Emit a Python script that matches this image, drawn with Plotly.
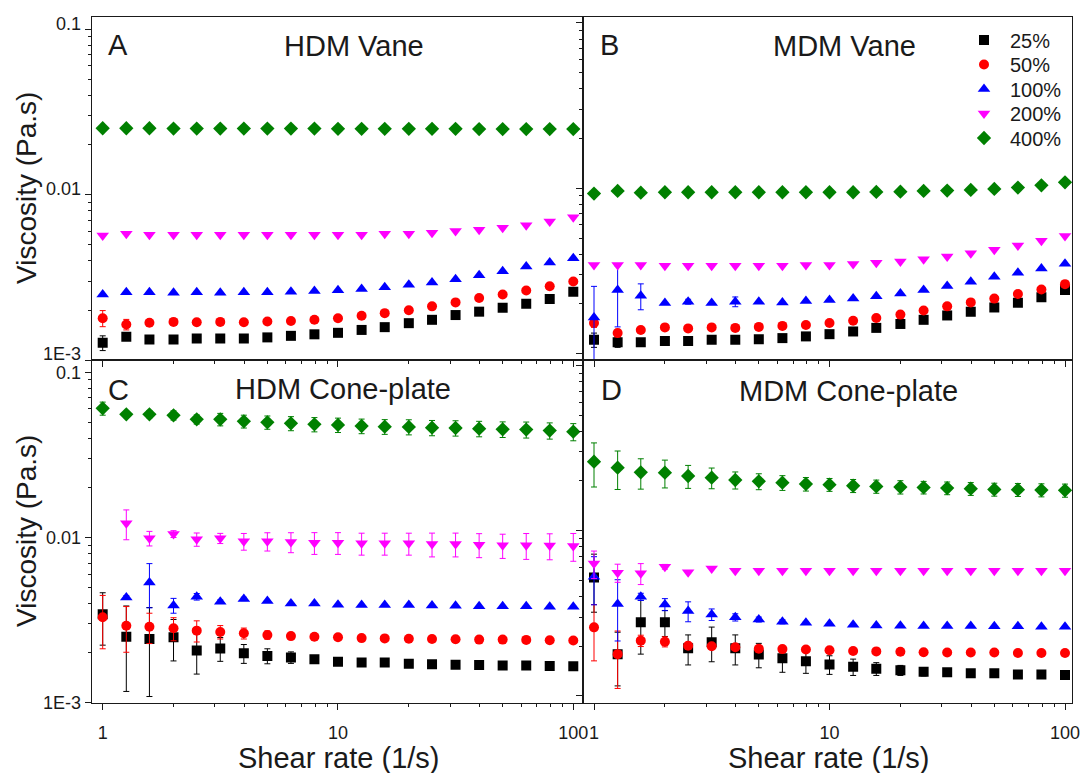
import plotly.graph_objects as go

# Shear rates (1/s), ten points per decade
shear_rate = [1, 1.26, 1.58, 2.0, 2.51, 3.16, 3.98, 5.01, 6.31, 7.94, 10,
              12.6, 15.8, 20.0, 25.1, 31.6, 39.8, 50.1, 63.1, 79.4, 100]

strain_labels = ["25%", "50%", "100%", "200%", "400%"]

# ---------------- A: HDM Vane (viscosity, Pa.s) ----------------
hdm_vane_25 = [0.00127, 0.00138, 0.00133, 0.00133, 0.00135, 0.00135, 0.00135, 0.00137, 0.00140, 0.00143, 0.00146,
               0.00152, 0.00158, 0.00167, 0.00175, 0.00187, 0.00196, 0.00207, 0.00219, 0.00234, 0.00259]
hdm_vane_50 = [0.00179, 0.00164, 0.00168, 0.00170, 0.00169, 0.00170, 0.00169, 0.00171, 0.00172, 0.00175, 0.00179,
               0.00185, 0.00192, 0.00200, 0.00211, 0.00223, 0.00237, 0.00249, 0.00263, 0.00279, 0.00298]
hdm_vane_100 = [0.00249, 0.00257, 0.00257, 0.00255, 0.00257, 0.00255, 0.00257, 0.00257, 0.00259, 0.00261, 0.00264,
                0.00269, 0.00275, 0.00285, 0.00294, 0.00308, 0.00326, 0.00344, 0.00368, 0.00389, 0.00413]
hdm_vane_200 = [0.00567, 0.00581, 0.00572, 0.00572, 0.00572, 0.00572, 0.00572, 0.00572, 0.00572, 0.00572, 0.00572,
                0.00572, 0.00581, 0.00581, 0.00589, 0.00603, 0.00614, 0.00631, 0.00652, 0.00689, 0.00729]
hdm_vane_400 = [0.0252, 0.0252, 0.0252, 0.0251, 0.0251, 0.0251, 0.0251, 0.0251, 0.0251, 0.0251, 0.0250,
                0.0250, 0.0250, 0.0250, 0.0250, 0.0250, 0.0249, 0.0249, 0.0249, 0.0249, 0.0249]
hdm_vane_25_err = [0.00013, 0.00006] + [0] * 19
hdm_vane_50_err = [0.0002, 0.00012] + [0] * 19

# ---------------- B: MDM Vane ----------------
mdm_vane_25 = [0.00121, 0.00117, 0.00117, 0.00119, 0.00119, 0.00121, 0.00121, 0.00122, 0.00124, 0.00127, 0.00131,
               0.00136, 0.00143, 0.00151, 0.00160, 0.00170, 0.00179, 0.00190, 0.00203, 0.00219, 0.00242]
mdm_vane_50 = [0.00153, 0.00133, 0.00139, 0.00144, 0.00142, 0.00144, 0.00143, 0.00145, 0.00147, 0.00149, 0.00153,
               0.00158, 0.00164, 0.00172, 0.00182, 0.00193, 0.00204, 0.00215, 0.00229, 0.00244, 0.00263]
mdm_vane_100 = [0.00165, 0.00242, 0.00224, 0.00202, 0.00206, 0.00202, 0.00206, 0.00206, 0.00204, 0.00208, 0.00211,
                0.00215, 0.00222, 0.00231, 0.00242, 0.00256, 0.00272, 0.00292, 0.00308, 0.00327, 0.00349]
mdm_vane_200 = [0.00343, 0.00343, 0.00343, 0.00340, 0.00340, 0.00340, 0.00340, 0.00340, 0.00340, 0.00343, 0.00343,
                0.00348, 0.00354, 0.00361, 0.00372, 0.00386, 0.00404, 0.00425, 0.00450, 0.00482, 0.00514]
mdm_vane_400 = [0.00929, 0.00963, 0.00941, 0.00946, 0.00946, 0.00946, 0.00946, 0.00946, 0.00946, 0.00946, 0.00946,
                0.00946, 0.00950, 0.00954, 0.00963, 0.00968, 0.00977, 0.00991, 0.01009, 0.01042, 0.01087]
mdm_vane_25_err = [0.00012, 0.00008] + [0] * 19
mdm_vane_50_err = [0.00009, 0.00007] + [0] * 19
mdm_vane_100_err = [0.0009, 0.00097, 0.0004, 0, 0.00007, 0, 0.00014] + [0] * 14

# ---------------- C: HDM Cone-plate ----------------
hdm_cone_25 = [0.00343, 0.00251, 0.00243, 0.00249, 0.00207, 0.00213, 0.00199, 0.00192, 0.00188, 0.00183, 0.00177,
               0.00175, 0.00175, 0.00172, 0.00171, 0.00170, 0.00169, 0.00168, 0.00168, 0.00167, 0.00166]
hdm_cone_50 = [0.00329, 0.00292, 0.00288, 0.00282, 0.00273, 0.00268, 0.00263, 0.00257, 0.00253, 0.00251, 0.00249,
               0.00246, 0.00245, 0.00244, 0.00243, 0.00242, 0.00241, 0.00241, 0.00240, 0.00239, 0.00238]
hdm_cone_100 = [None, 0.00434, 0.00535, 0.00388, 0.00438, 0.00409, 0.00425, 0.00413, 0.00399, 0.00399, 0.00392,
                0.00390, 0.00390, 0.00390, 0.00388, 0.00386, 0.00384, 0.00384, 0.00384, 0.00381, 0.00381]
hdm_cone_200 = [None, 0.01219, 0.00989, 0.01050, 0.00975, 0.00989, 0.00948, 0.00948, 0.00939, 0.00930, 0.00930,
                0.00922, 0.00922, 0.00922, 0.00913, 0.00913, 0.00905, 0.00897, 0.00897, 0.00893, 0.00888]
hdm_cone_400 = [0.0605, 0.0557, 0.0557, 0.0549, 0.0519, 0.0519, 0.0505, 0.0498, 0.0491, 0.0484, 0.0480,
                0.0473, 0.0469, 0.0467, 0.0462, 0.0460, 0.0456, 0.0452, 0.0450, 0.0444, 0.0437]
hdm_cone_25_err = [0.0012, 0.00134, 0.00134, 0.0007, 0.00058, 0.00035, 0.00026, 0.0002, 0.00015, 0.00008, 0.00005,
                   0, 0, 0, 0, 0, 0, 0, 0, 0, 0]
hdm_cone_50_err = [0.00117, 0.0009, 0.0006, 0.00045, 0.0004, 0.00025, 0.0002, 0.00015, 0.0001, 0.00008, 0.00006,
                   0, 0, 0, 0, 0, 0, 0, 0, 0, 0]
hdm_cone_100_err = [0, 0.0001, 0.0016, 0.0004, 0.0002, 0.0001, 0.0001] + [0] * 14
hdm_cone_200_err = [0, 0.0025, 0.001, 0.0005, 0.0009, 0.0007, 0.0011, 0.0012, 0.0013, 0.0014, 0.0014,
                    0.0014, 0.0014, 0.0014, 0.0015, 0.0015, 0.0015, 0.0015, 0.0016, 0.0016, 0.0017]
hdm_cone_400_err = [0.0055, 0.0015, 0.0027, 0.0035, 0.0033, 0.0045, 0.0045, 0.0046, 0.0048, 0.0048, 0.0048,
                    0.0048, 0.0048, 0.0049, 0.0049, 0.0049, 0.0049, 0.0049, 0.0050, 0.0050, 0.0052]

# ---------------- D: MDM Cone-plate ----------------
mdm_cone_25 = [0.00521, 0.00179, 0.00279, 0.00279, 0.00194, 0.00211, 0.00194, 0.00178, 0.00169, 0.00162, 0.00155,
               0.00150, 0.00146, 0.00143, 0.00140, 0.00139, 0.00137, 0.00137, 0.00135, 0.00135, 0.00134]
mdm_cone_50 = [0.00260, 0.00179, 0.00216, 0.00213, 0.00201, 0.00200, 0.00197, 0.00193, 0.00192, 0.00191, 0.00189,
               0.00187, 0.00186, 0.00185, 0.00184, 0.00183, 0.00183, 0.00183, 0.00182, 0.00182, 0.00182]
mdm_cone_100 = [0.00526, 0.00360, 0.00398, 0.00358, 0.00326, 0.00311, 0.00299, 0.00290, 0.00281, 0.00277, 0.00273,
                0.00270, 0.00267, 0.00266, 0.00265, 0.00265, 0.00265, 0.00264, 0.00264, 0.00262, 0.00262]
mdm_cone_200 = [0.00633, 0.00557, 0.00552, 0.00605, 0.00560, 0.00591, 0.00573, 0.00573, 0.00573, 0.00573, 0.00573,
                0.00573, 0.00573, 0.00573, 0.00573, 0.00573, 0.00573, 0.00573, 0.00573, 0.00573, 0.00573]
mdm_cone_400 = [0.02618, 0.02406, 0.02254, 0.02244, 0.02143, 0.02094, 0.02027, 0.01990, 0.01953, 0.01917, 0.01900,
                0.01871, 0.01854, 0.01837, 0.01828, 0.01811, 0.01795, 0.01778, 0.01771, 0.01762, 0.01754]
mdm_cone_25_err = [0.0020, 0.00064, 0.001, 0.0005, 0.0004, 0.0005, 0.0004, 0.0003, 0.0003, 0.00025, 0.0002,
                   0.00017, 0.00013, 0.0001, 0.00008, 0.00005, 0, 0, 0, 0, 0]
mdm_cone_50_err = [0.00097, 0.00068, 0.00017, 0.00015, 0.0001, 0.00005] + [0] * 15
mdm_cone_100_err = [0.0017, 0.00145, 0.0002, 0.0003, 0.00045, 0.00025, 0.00015, 0.0001, 0.00008, 0.00005] + [0] * 11
mdm_cone_200_err = [0.0012, 0.0007, 0.0008, 0.0002, 0.0001] + [0] * 16
mdm_cone_400_err = [0.0078, 0.0063, 0.0047, 0.0043, 0.0034, 0.003, 0.0024, 0.0022, 0.002, 0.0018, 0.0017,
                    0.0017, 0.0017, 0.0017, 0.0016, 0.0016, 0.0016, 0.0016, 0.0016, 0.0016, 0.0016]

colors = ["#000000", "#ff0000", "#0000ff", "#ff00ff", "#008000"]
symbols = ["square", "circle", "triangle-up", "triangle-down", "diamond"]
sizes = [10, 10, 11, 11, 11]
legend_ids = ["legend", "legend2", "legend3", "legend4", "legend5"]

zeros = [0] * 21
panels = [
    ("x", "y", [hdm_vane_25, hdm_vane_50, hdm_vane_100, hdm_vane_200, hdm_vane_400],
     [hdm_vane_25_err, hdm_vane_50_err, zeros, zeros, zeros], False),
    ("x2", "y2", [mdm_vane_25, mdm_vane_50, mdm_vane_100, mdm_vane_200, mdm_vane_400],
     [mdm_vane_25_err, mdm_vane_50_err, mdm_vane_100_err, zeros, zeros], True),
    ("x3", "y3", [hdm_cone_25, hdm_cone_50, hdm_cone_100, hdm_cone_200, hdm_cone_400],
     [hdm_cone_25_err, hdm_cone_50_err, hdm_cone_100_err, hdm_cone_200_err, hdm_cone_400_err], False),
    ("x4", "y4", [mdm_cone_25, mdm_cone_50, mdm_cone_100, mdm_cone_200, mdm_cone_400],
     [mdm_cone_25_err, mdm_cone_50_err, mdm_cone_100_err, mdm_cone_200_err, mdm_cone_400_err], False),
]

FONT = "Liberation Sans, Arial, sans-serif"
INK = "#1a1a1a"
fig = go.Figure()

for xa, ya, series, errs, in_legend in panels:
    for i in range(5):
        fig.add_trace(go.Scatter(
            x=shear_rate, y=series[i], xaxis=xa, yaxis=ya,
            mode="markers", name=strain_labels[i], showlegend=in_legend, legend=legend_ids[i],
            marker=dict(symbol=symbols[i], size=sizes[i], color=colors[i], line=dict(width=0)),
            error_y=dict(type="data", array=errs[i], visible=True, color=colors[i],
                         thickness=1, width=3),
        ))

W, H = 1081, 773


def px_x(p):
    return p / W


def px_y(p):
    return 1 - p / H


x_major = [1, 10, 100]
x_minor = [2, 3, 4, 5, 6, 7, 8, 9, 20, 30, 40, 50, 60, 70, 80, 90]
y_major = [0.001, 0.01, 0.1]
y_minor = [0.002, 0.003, 0.004, 0.005, 0.006, 0.007, 0.008, 0.009,
           0.02, 0.03, 0.04, 0.05, 0.06, 0.07, 0.08, 0.09]


def xaxis(domain, rng, labels):
    return dict(type="log", domain=domain, range=rng, showgrid=False, zeroline=False,
                showline=True, linecolor=INK, linewidth=1.3, mirror=True,
                tickmode="array", tickvals=x_major, ticktext=["1", "10", "100"],
                showticklabels=labels, ticks="outside", ticklen=6, tickwidth=1, tickcolor=INK,
                ticklabelstandoff=8,
                tickfont=dict(family=FONT, size=18, color=INK),
                minor=dict(tickmode="array", tickvals=x_minor, ticks="outside", ticklen=3,
                           tickwidth=1, tickcolor=INK, showgrid=False))


def yaxis(domain, rng, labels, anchor, shift):
    return dict(type="log", domain=domain, range=rng, showgrid=False, zeroline=False, anchor=anchor,
                showline=True, linecolor=INK, linewidth=1.3, mirror=True,
                tickmode="array", tickvals=y_major, ticktext=["1E-3", "0.01", "0.1"],
                showticklabels=labels, ticks="outside", ticklen=6, tickwidth=1, tickcolor=INK,
                ticklabelshift=shift,
                tickfont=dict(family=FONT, size=18, color=INK),
                minor=dict(tickmode="array", tickvals=y_minor, ticks="outside", ticklen=3,
                           tickwidth=1, tickcolor=INK, showgrid=False))


left_dom = [px_x(91.7), px_x(582.7)]
right_dom = [px_x(582.7), px_x(1072.3)]
top_dom = [px_y(360), px_y(16.7)]
bot_dom = [px_y(702.7), px_y(360)]

layout = dict(
    width=W, height=H, margin=dict(l=0, r=0, t=0, b=0, autoexpand=False),
    paper_bgcolor="white", plot_bgcolor="white",
    font=dict(family=FONT, color=INK),
    xaxis=dict(xaxis(left_dom, [-0.0467, 2.040], False), anchor="y"),
    xaxis2=dict(xaxis(right_dom, [-0.048, 2.031], False), anchor="y2"),
    xaxis3=dict(xaxis(left_dom, [-0.0467, 2.040], True), anchor="y3"),
    xaxis4=dict(xaxis(right_dom, [-0.048, 2.031], True), anchor="y4"),
    yaxis=yaxis(top_dom, [-3, -0.924], True, "x", -6),
    yaxis2=yaxis(top_dom, [-3.039, -0.962], False, "x2", 0),
    yaxis3=yaxis(bot_dom, [-3, -0.9255], True, "x3", 0),
    yaxis4=yaxis(bot_dom, [-3.041, -0.967], False, "x4", 0),
    showlegend=True,
)

# one single-entry legend per strain amplitude, stacked in the top-right corner of panel B
legend_rows = [40, 64.5, 89, 113.5, 138]
for lid, row in zip(legend_ids, legend_rows):
    layout[lid] = dict(x=px_x(958), y=px_y(row), xanchor="left", yanchor="middle",
                       bgcolor="rgba(0,0,0,0)", borderwidth=0, itemwidth=42,
                       font=dict(family=FONT, size=20, color=INK))
fig.update_layout(**layout)

annotations = [
    # panel letters
    dict(text="A", x=px_x(118), y=px_y(45)),
    dict(text="B", x=px_x(609), y=px_y(45)),
    dict(text="C", x=px_x(118), y=px_y(390)),
    dict(text="D", x=px_x(611), y=px_y(390)),
    # panel titles
    dict(text="HDM Vane", x=px_x(354), y=px_y(46)),
    dict(text="MDM Vane", x=px_x(844), y=px_y(46)),
    dict(text="HDM Cone-plate", x=px_x(343), y=px_y(389)),
    dict(text="MDM Cone-plate", x=px_x(848), y=px_y(391)),
]
for a in annotations:
    fig.add_annotation(xref="paper", yref="paper", showarrow=False, xanchor="center", yanchor="middle",
                       font=dict(family=FONT, size=29, color=INK), **a)

for yc in (188, 531):
    fig.add_annotation(text="Viscosity (Pa.s)", xref="paper", yref="paper", x=px_x(26), y=px_y(yc),
                       showarrow=False, textangle=-90, xanchor="center", yanchor="middle",
                       font=dict(family=FONT, size=28, color=INK))
for xc in (338, 828):
    fig.add_annotation(text="Shear rate (1/s)", xref="paper", yref="paper", x=px_x(xc), y=px_y(758),
                       showarrow=False, xanchor="center", yanchor="middle",
                       font=dict(family=FONT, size=29, color=INK))

fig.write_html("out.html")
